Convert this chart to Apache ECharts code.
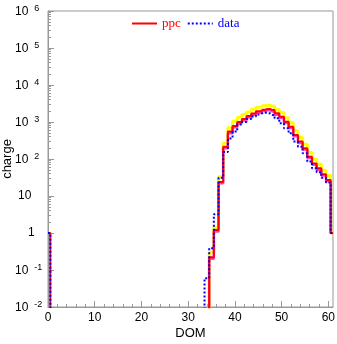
<!DOCTYPE html>
<html><head><meta charset="utf-8">
<script src="https://cdn.jsdelivr.net/npm/echarts@6/dist/echarts.min.js"></script>
<style>html,body{margin:0;padding:0;background:#fff}#c{width:337px;height:344px}</style>
</head><body><div id="c"></div>
<script>
// DOM bins (category centres)
const domBins = [0,1,2,3,4,5,6,7,8,9,10,11,12,13,14,15,16,17,18,19,20,21,22,23,24,25,26,27,28,29,30,
  31,32,33,34,35,36,37,38,39,40,41,42,43,44,45,46,47,48,49,50,51,52,53,54,55,56,57,58,59,60,61];
// ppc (red)
const ppc = [1, 0,0,0,0,0,0,0,0,0,0, 0,0,0,0,0,0,0,0,0,0, 0,0,0,0,0,0,0,0,0,0, 0,0,0,0,
  0.22,1.2,24,215,550,780,1000,1200,1450,1700,1950,2150,2250,2100,1720,1390,1020,745,445,295,195,115,76,56,39,27, 1];
// data (blue dotted)
const dataVals = [1, 0,0,0,0,0,0,0,0,0,0, 0,0,0,0,0,0,0,0,0,0, 0,0,0,0,0,0,0,0,0,0, 0,0,0,
  0.06,0.39,3.2,31,155,360,550,850,1000,1200,1400,1600,1800,1720,1550,1260,920,675,495,295,215,143,85,56,44,31,23, 1];
// upper variant (yellow)
const upperVals = [0, 0,0,0,0,0,0,0,0,0,0, 0,0,0,0,0,0,0,0,0,0, 0,0,0,0,0,0,0,0,0,0, 0,0,0,0,
  0.3,1.4,33,270,700,1050,1350,1600,1850,2200,2500,2750,2850,2650,2200,1800,1300,950,580,380,250,150,98,72,50,36, 1];
// lower variant (pink)
const lowerVals = [0, 0,0,0,0,0,0,0,0,0,0, 0,0,0,0,0,0,0,0,0,0, 0,0,0,0,0,0,0,0,0,0, 0,0,0,0,
  0.2,1.1,22,195,500,720,920,1100,1330,1560,1800,1980,2070,1930,1580,1280,940,690,410,270,180,106,70,51,36,25, 1];
// ticks
const xMajorTicks = [0,10,20,30,40,50,60];
const xMinorTicks = [2,4,6,8,12,14,16,18,22,24,26,28,32,34,36,38,42,44,46,48,52,54,56,58];
const yMajorTicks = [1e-2,1e-1,1,10,1e2,1e3,1e4,1e5,1e6];
const yMinorTicks = [];
for (const d of [1e-2,1e-1,1,10,1e2,1e3,1e4,1e5]) for (const k of [2,3,4,5,6,7,8,9]) yMinorTicks.push(+(k*d).toPrecision(3));

const FLOOR = 1e-4; // empty bins drawn below the axis floor (clipped)
const pairs = vals => domBins.map((x,i) => [x, vals[i] > 0 ? vals[i] : FLOOR]);

const gray = '#999';
const chart = echarts.init(document.getElementById('c'), null, {renderer:'canvas'});
const mk = (name, vals, color, width, type, z) => ({
  name, type:'line', step:'middle', symbol:'none', data: pairs(vals), clip:true, z,
  lineStyle:{color, width, type}, itemStyle:{color}, emphasis:{disabled:true}
});
chart.setOption({
  animation:false,
  grid:{left:48, right:4, top:11, bottom:37, show:true, borderColor:gray, borderWidth:1,
        containLabel:false, outerBoundsMode:'none'},
  legend:{
    left:131, top:17, padding:0, itemWidth:25, itemHeight:10, itemGap:6,
    itemStyle:{opacity:0},
    textStyle:{fontFamily:'Liberation Serif', fontSize:13},
    data:[{name:'ppc', textStyle:{color:'#ff0000'}},{name:'data', textStyle:{color:'#0000ff'}}]
  },
  xAxis:[{
    type:'value', min:0, max:61, name:'DOM', nameLocation:'middle', nameGap:20, nameMoveOverlap:false,
    nameTextStyle:{fontFamily:'Liberation Sans', fontSize:13, color:'#000'},
    axisLine:{lineStyle:{color:gray}}, splitLine:{show:false},
    axisTick:{inside:true, length:6, lineStyle:{color:gray}, customValues:xMajorTicks},
    axisLabel:{customValues:xMajorTicks, margin:5, fontFamily:'Liberation Sans', fontSize:12, color:'#000'}
  },{
    type:'value', min:0, max:61, position:'bottom', axisLine:{show:false}, splitLine:{show:false},
    axisTick:{inside:true, length:3, lineStyle:{color:gray}, customValues:xMinorTicks},
    axisLabel:{show:false}
  }],
  yAxis:[{
    type:'log', logBase:10, min:1e-2, max:1e6, name:'charge', nameLocation:'middle', nameGap:34, nameMoveOverlap:false,
    nameTextStyle:{fontFamily:'Liberation Sans', fontSize:13, color:'#000'},
    axisLine:{show:true, lineStyle:{color:gray}}, splitLine:{show:false},
    axisTick:{inside:true, length:6, lineStyle:{color:gray}, customValues:yMajorTicks},
    axisLabel:{
      customValues:yMajorTicks, align:'left', margin:33, color:'#000',
      fontFamily:'Liberation Sans', fontSize:12,
      formatter: v => {
        const n = Math.round(Math.log10(v));
        if (n === 0) return '{one|1}';
        if (n === 1) return '{ten|10}';
        return '{b|10}{e|' + n + '}';
      },
      rich:{
        one:{fontFamily:'Liberation Sans', fontSize:12, padding:[0,0,0,13], color:'#000'},
        ten:{fontFamily:'Liberation Sans', fontSize:12, padding:[0,0,0,3], color:'#000'},
        b:{fontFamily:'Liberation Sans', fontSize:12, lineHeight:13, verticalAlign:'bottom', color:'#000'},
        e:{fontFamily:'Liberation Sans', fontSize:9, lineHeight:10, verticalAlign:'top', padding:[0,0,6,6], color:'#000'}
      }
    }
  },{
    type:'log', logBase:10, min:1e-2, max:1e6, position:'left',
    axisLine:{show:false}, splitLine:{show:false},
    axisTick:{inside:true, length:3, lineStyle:{color:gray}, customValues:yMinorTicks},
    axisLabel:{show:false}
  }],
  series:[
    mk('upper', upperVals, '#ffff00', 3, 'solid', 1),
    mk('lower', lowerVals, '#ff40c0', 2.5, 'solid', 2),
    mk('ppc', ppc, '#ff0000', 2, 'solid', 3),
    mk('data', dataVals, '#0000ff', 2, [2,2], 4)
  ]
});
</script></body></html>
